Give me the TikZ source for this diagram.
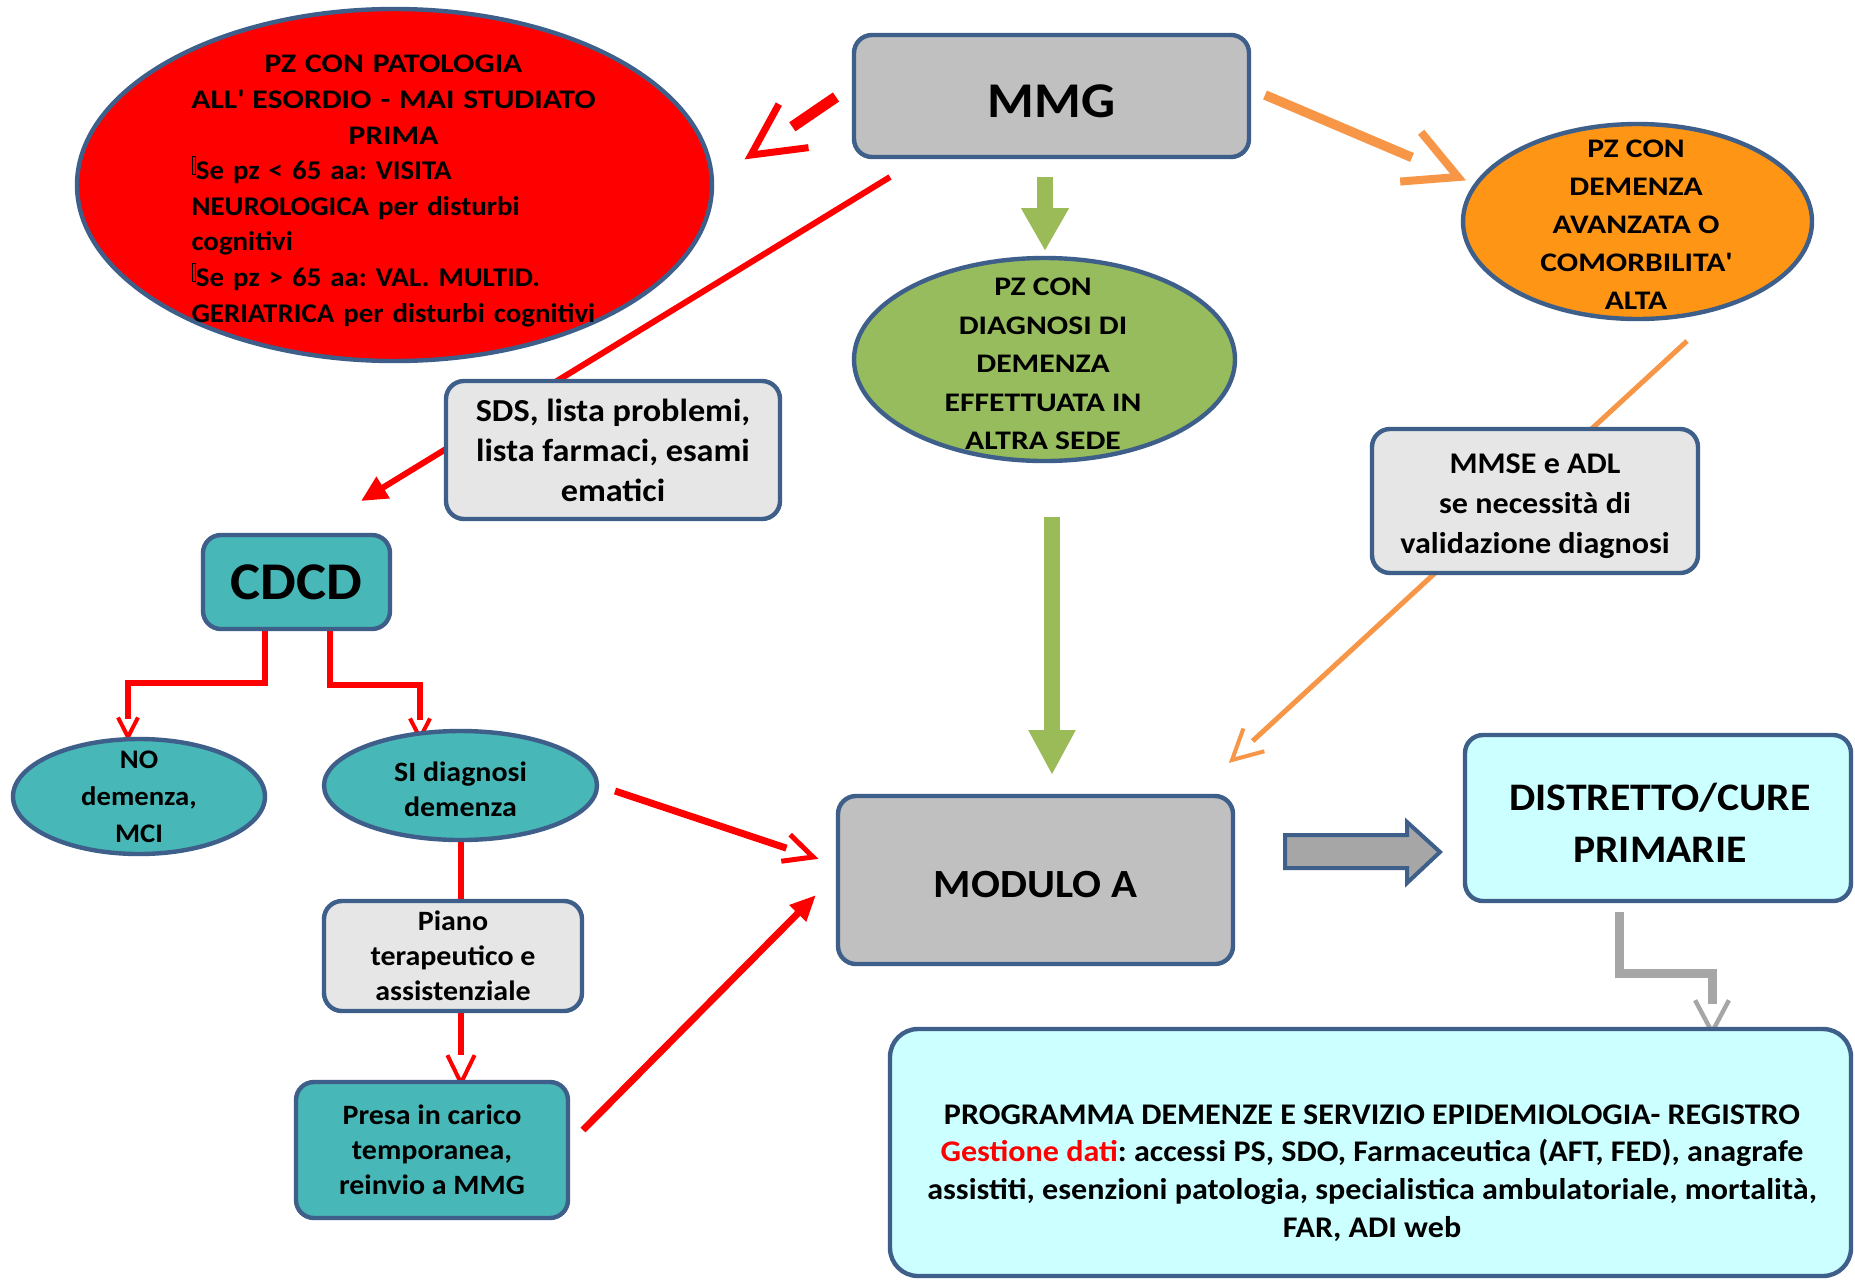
\documentclass[tikz,border=0pt]{standalone}
\usepackage{fontspec}
\setmainfont{Carlito}[FakeStretch=1.07]
\newfontfamily\widefont{Carlito}[FakeStretch=1.18]
\usetikzlibrary{arrows.meta,shapes.geometric,calc}
\pgfdeclarelayer{bg}
\pgfdeclarelayer{edges}
\pgfsetlayers{bg,edges,main}

\definecolor{bord}{HTML}{3E5F8A}
\definecolor{redc}{HTML}{FF0000}
\definecolor{greyfill}{HTML}{C0C0C0}
\definecolor{greenfill}{HTML}{97BC5E}
\definecolor{orangefill}{HTML}{FF9515}
\definecolor{tealfill}{HTML}{48B7B7}
\definecolor{palegrey}{HTML}{E6E6E6}
\definecolor{palecyan}{HTML}{CCFFFF}
\definecolor{orangeline}{HTML}{F79646}
\definecolor{greenline}{HTML}{9BBB59}
\definecolor{greyline}{HTML}{A6A6A6}

% open chevron head: style, from, tip, arm length, half angle
\newcommand\openhead[5]{%
  \draw[#1, line join=miter, line cap=butt] ($(#3)!#4!#5:(#2)$) -- (#3) -- ($(#3)!#4!-#5:(#2)$);}
% placeholder glyph shown in place of the missing bullet
\newcommand\missglyph{\raisebox{3pt}{\fboxsep=0pt\fboxrule=0.5pt\fbox{\rule{0pt}{8.5pt}\hspace{1.2pt}}}}

\begin{document}
\frenchspacing
\begin{tikzpicture}[x=0.5pt,y=-0.5pt, line cap=butt,
  box/.style={draw=bord, line width=2.2pt, rounded corners=9pt, inner sep=0pt, align=center},
  oval/.style={ellipse, draw=bord, line width=2.2pt, inner sep=0pt},
  txt/.style={inner sep=0pt, align=center},
  fs/.style 2 args={font=\fontsize{#1}{#2}\selectfont\bfseries},
  wfs/.style 2 args={font=\widefont\fontsize{#1}{#2}\selectfont\bfseries},
]
\begin{pgfonlayer}{bg}
  \fill[white] (0,0) rectangle (1855,1280);
\end{pgfonlayer}
\useasboundingbox (0,0) rectangle (1855,1280);

% ---------- nodes ----------
\node[box, fill=greyfill, minimum width=197.5pt, minimum height=61pt, fs={25}{30}, text height=21pt, text depth=0pt] (mmg) at (1051.5,96) {MMG};

\node[oval, fill=redc, minimum width=317.5pt, minimum height=176pt] (onset) at (394.5,185) {};
\node[text width=202pt, align=left, inner sep=0pt, fs={13.5}{17.8}] (onsettxt) at (393.5,191) {%
\makebox[\linewidth]{\widefont\fontsize{13.4}{17.8}\selectfont\bfseries PZ CON PATOLOGIA}\\
\makebox[\linewidth]{\widefont\fontsize{13.4}{17.8}\selectfont\bfseries ALL\textquotesingle{} ESORDIO - MAI STUDIATO}\\
\makebox[\linewidth]{\widefont\fontsize{13.4}{17.8}\selectfont\bfseries PRIMA}\\
\missglyph Se pz < 65 aa: VISITA\\
NEUROLOGICA per disturbi\\
cognitivi\\
\missglyph Se pz > 65 aa: VAL. MULTID.\\
GERIATRICA per disturbi cognitivi};

\node[oval, fill=orangefill, minimum width=174.5pt, minimum height=97.5pt] (advanced) at (1637.5,221.5) {};
\node[txt, wfs={13.4}{19}] (advancedtxt) at (1636,225) {PZ CON\\DEMENZA\\AVANZATA O\\COMORBILITA\textquotesingle\\ALTA};

\node[oval, fill=greenfill, minimum width=190.5pt, minimum height=101.5pt] (elsewhere) at (1044.5,359.5) {};
\node[txt, wfs={13.4}{19.2}] (elsewheretxt) at (1043,364) {PZ CON\\DIAGNOSI DI\\DEMENZA\\EFFETTUATA IN\\ALTRA SEDE};

\node[box, fill=palegrey, minimum width=167pt, minimum height=69pt, fs={16}{20}] (sds) at (613,450) {SDS, lista problemi,\\lista farmaci, esami\\ematici};

\node[box, fill=palegrey, minimum width=163pt, minimum height=72pt] (mmse) at (1535,501) {};
\node[txt, fs={15}{20}] (mmsetxt) at (1535,506) {MMSE e ADL\\se necessità di\\validazione diagnosi};

\node[box, fill=tealfill, minimum width=93.5pt, minimum height=47pt, fs={26.5}{30}] (cdcd) at (296.5,582) {CDCD};

\node[oval, fill=tealfill, minimum width=126pt, minimum height=57.5pt] (nodem) at (139,796.5) {};
\node[txt, fs={13.4}{18.5}] (nodemtxt) at (139,797) {NO\\demenza,\\MCI};

\node[oval, fill=tealfill, minimum width=136.5pt, minimum height=54.5pt] (sidem) at (460.5,785.5) {};
\node[txt, fs={14}{17.5}] (sidemtxt) at (460.5,789) {SI diagnosi\\demenza};

\node[box, fill=greyfill, minimum width=197.5pt, minimum height=84pt, fs={20}{24}, text height=17.9pt, text depth=0pt] (moda) at (1035.5,880) {MODULO A};

\node[box, fill=palecyan, minimum width=193pt, minimum height=83pt] (distr) at (1658,818) {};
\node[txt, fs={19.5}{26}] (distrtxt) at (1660,823) {DISTRETTO/CURE\\PRIMARIE};

\node[box, fill=palegrey, minimum width=129pt, minimum height=55pt, fs={14}{17.5}] (piano) at (453,956) {Piano\\terapeutico e\\assistenziale};

\node[box, fill=tealfill, minimum width=136pt, minimum height=68pt, fs={14}{17.5}] (presa) at (432,1150) {Presa in carico\\temporanea,\\reinvio a MMG};

\node[box, fill=palecyan, rounded corners=14pt, minimum width=480.5pt, minimum height=123.5pt] (prog) at (1370.5,1152.5) {};
\node[txt, fs={15}{18.9}] (progtxt) at (1372,1173) {PROGRAMMA DEMENZE E SERVIZIO EPIDEMIOLOGIA- REGISTRO\\
\textcolor{redc}{Gestione dati}: accessi PS, SDO, Farmaceutica (AFT, FED), anagrafe\\
assistiti, esenzioni patologia, specialistica ambulatoriale, mortalità,\\
FAR, ADI web};

% ---------- connector end points ----------
\coordinate (mmgW)   at (836,97);
\coordinate (onsetT) at (751,155);
\coordinate (mmgSW)  at (890,177);
\coordinate (cdcdT)  at (361,501);
\coordinate (mmgS)   at (1045,177);
\coordinate (elsT)   at (1045,251);
\coordinate (elsS)   at (1052,517);
\coordinate (modaT)  at (1052,775);
\coordinate (mmgE)   at (1265,95);
\coordinate (advT)   at (1458,177);
\coordinate (advS)   at (1687,341);
\coordinate (modaNE) at (1232,760);
\coordinate (cdA)    at (265,629);
\coordinate (cdAel)  at (128,683);
\coordinate (noT)    at (128,737);
\coordinate (cdB)    at (330,629);
\coordinate (cdBel)  at (420,685);
\coordinate (siT)    at (420,738);
\coordinate (siE)    at (615,791);
\coordinate (modaW1) at (813,857);
\coordinate (pianoT) at (461,1083);
\coordinate (presaE) at (583,1130);
\coordinate (modaW2) at (816,895);
\coordinate (distS)  at (1619,912);
\coordinate (distel) at (1712,973);
\coordinate (progT)  at (1712,1032);

% ---------- connectors ----------
\begin{pgfonlayer}{edges}
  % MMG -> new patient (thick red, open head)
  \draw[redc, line width=5.5pt, shorten >=25pt] (mmgW) -- (onsetT);
  \openhead{redc, line width=3.5pt}{mmgW}{onsetT}{29pt}{27}
  % MMG -> CDCD (through the SDS note)
  \draw[redc, line width=3pt, -{Triangle[length=13pt,width=12pt]}] (mmgSW) -- (cdcdT);
  % MMG -> diagnosis made elsewhere
  \draw[greenline, line width=8pt, -{Triangle[length=21.5pt,width=22.5pt]}] (mmgS) -- (elsT);
  % diagnosis made elsewhere -> MODULO A
  \draw[greenline, line width=8pt, -{Triangle[length=22.5pt,width=22pt]}] (elsS) -- (modaT);
  % MMG -> advanced dementia
  \draw[orangeline, line width=4.8pt, shorten >=25pt] (mmgE) -- (advT);
  \openhead{orangeline, line width=4pt}{mmgE}{advT}{29pt}{27.5}
  % advanced dementia -> MODULO A (through the MMSE note)
  \draw[orangeline, line width=2.5pt, shorten >=14pt] (advS) -- (modaNE);
  \openhead{orangeline, line width=2pt}{advS}{modaNE}{16.75pt}{27.5}
  % CDCD -> NO demenza
  \draw[redc, line width=3pt, shorten >=9pt] (cdA) |- (cdAel) -- (noT);
  \openhead{redc, line width=2pt}{cdAel}{noT}{11pt}{27}
  % CDCD -> SI diagnosi
  \draw[redc, line width=3pt, shorten >=9pt] (cdB) |- (cdBel) -- (siT);
  \openhead{redc, line width=2pt}{cdBel}{siT}{11pt}{27}
  % SI diagnosi -> MODULO A
  \draw[redc, line width=3.5pt, shorten >=14pt] (siE) -- (modaW1);
  \openhead{redc, line width=2.5pt}{siE}{modaW1}{16pt}{26}
  % SI diagnosi -> Piano
  \draw[redc, line width=3pt] (sidem.south -| piano.north) ++(8,0) coordinate (siS) -- (siS |- piano.north);
  % Piano -> Presa in carico
  \draw[redc, line width=3pt, shorten >=14pt] (piano.south -| siS) coordinate (pianoS) -- (pianoT);
  \openhead{redc, line width=2pt}{pianoS}{pianoT}{15.5pt}{26}
  % Presa in carico -> MODULO A
  \draw[redc, line width=3.5pt, -{Triangle[length=13pt,width=11pt]}] (presaE) -- (modaW2);
  % DISTRETTO -> PROGRAMMA (grey elbow)
  \draw[greyline, line width=4.5pt, shorten >=14pt] (distS) |- (distel) -- (progT);
  \openhead{greyline, line width=2.2pt}{distel}{progT}{18pt}{28}
\end{pgfonlayer}

% MODULO A -> DISTRETTO block arrow
\draw[fill=greyline, draw=bord, line width=2pt, line join=miter]
  (1285,835) coordinate (handoff) -- (1407,835) -- (1407,822) -- (1440,852) -- (1407,883) -- (1407,868) -- (1285,868) -- cycle;

\end{tikzpicture}
\end{document}
